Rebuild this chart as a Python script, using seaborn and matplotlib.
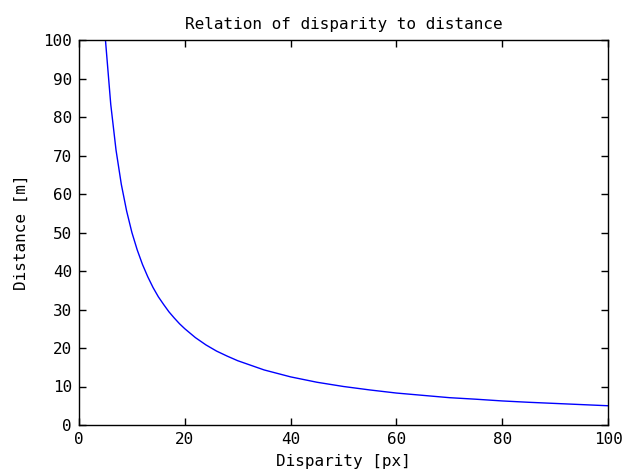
import matplotlib
matplotlib.use("Agg")
import matplotlib.pyplot as plt
import seaborn as sns
import pandas as pd

disparity = [5, 6, 7, 8, 9, 10, 11, 12, 13, 14, 15, 16, 17, 18, 19, 20,
             22, 24, 26, 28, 30, 35, 40, 45, 50, 55, 60, 65, 70, 75, 80,
             85, 90, 95, 100]
distance = [100, 83.3, 71.4, 62.5, 55.6, 50, 45.5, 41.7, 38.5, 35.7, 33.3,
            31.3, 29.4, 27.8, 26.3, 25, 22.7, 20.8, 19.2, 17.9, 16.7, 14.3,
            12.5, 11.1, 10, 9.1, 8.3, 7.7, 7.1, 6.7, 6.25, 5.9, 5.6, 5.3, 5]
x_ticks = [0, 20, 40, 60, 80, 100]
y_ticks = [0, 10, 20, 30, 40, 50, 60, 70, 80, 90, 100]

sns.set_theme(style="white")
plt.rcParams['font.family'] = ['DejaVu Sans Mono']

df = pd.DataFrame({"disparity": disparity, "distance": distance})

fig = plt.figure(figsize=(6.22, 4.74), dpi=100)
ax = fig.add_axes([79/622, 1-425/474, (608-79)/622, (425-40)/474])
sns.lineplot(data=df, x="disparity", y="distance", ax=ax, color=(0, 0, 1),
             linewidth=1.0)
ax.set_xlim(0, 100)
ax.set_ylim(0, 100)
ax.set_xticks(x_ticks)
ax.set_yticks(y_ticks)
ax.tick_params(axis='both', which='both', direction='in', length=5, width=1,
               color='black', labelsize=11.5, labelcolor='black',
               top=True, right=True, bottom=True, left=True, pad=5)
for s in ax.spines.values():
    s.set_color('black')
    s.set_linewidth(1)
ax.set_xlabel("Disparity [px]", fontsize=11.5, color='black', labelpad=5)
ax.set_ylabel("Distance [m]", fontsize=11.5, color='black', labelpad=10)
ax.set_title("Relation of disparity to distance", fontsize=11.5, color='black', pad=8)
fig.savefig("out.png", dpi=100)
